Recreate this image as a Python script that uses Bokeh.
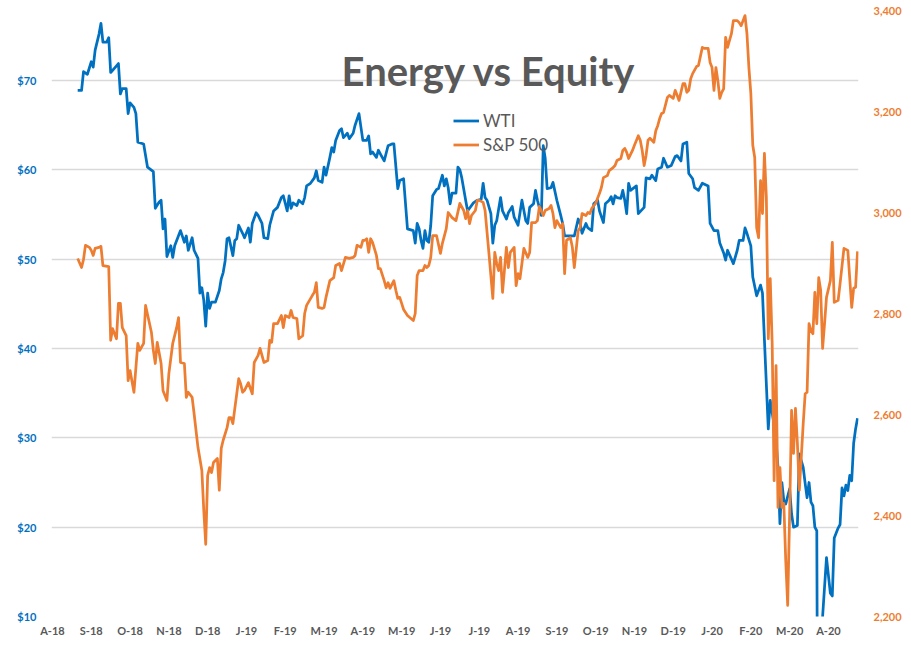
from bokeh.plotting import figure
from bokeh.models import (Range1d, LinearAxis, FixedTicker, NumeralTickFormatter,
                          Legend, LegendItem, Label, ColumnDataSource)
from bokeh.embed import file_html
from bokeh.resources import INLINE

# ---------------- data (trading-day index on a category axis) ----------------
month_ticks = [0, 20, 40, 60, 80, 100, 120, 140, 160, 180, 200,
               220, 240, 260, 280, 300, 320, 340, 360, 380, 400]
month_labels = ["A-18", "S-18", "O-18", "N-18", "D-18", "J-19", "F-19", "M-19", "A-19", "M-19", "J-19",
                "J-19", "A-19", "S-19", "O-19", "N-19", "D-19", "J-20", "F-20", "M-20", "A-20"]

wti_day = [13, 15, 16, 18, 20, 21, 22, 24, 25, 26,
           28, 29, 30, 32, 34, 35, 36, 38, 39, 40,
           42, 43, 44, 47, 49, 52, 53, 55, 56, 57,
           58, 59, 61, 62, 63, 66, 68, 69, 70, 72,
           73, 75, 76, 77, 78, 79, 80, 81, 82, 84,
           86, 87, 88, 89, 90, 91, 93, 94, 95, 96,
           98, 99, 101, 102, 103, 105, 106, 108, 109, 111,
           112, 114, 116, 118, 119, 121, 122, 123, 124, 126,
           127, 129, 130, 131, 133, 135, 136, 137, 139, 140,
           141, 143, 144, 145, 146, 148, 149, 150, 152, 153,
           155, 156, 158, 160, 162, 163, 164, 165, 167, 168,
           169, 171, 173, 175, 176, 178, 179, 181, 183, 186,
           187, 188, 189, 190, 191, 192, 193, 194, 195, 196,
           198, 199, 201, 202, 203, 204, 205, 206, 208, 209,
           210, 211, 213, 214, 215, 217, 219, 221, 222, 223,
           224, 226, 227, 228, 229, 231, 232, 234, 235, 237,
           238, 240, 241, 242, 244, 245, 246, 248, 249, 250,
           252, 253, 254, 255, 257, 258, 260, 262, 263, 264,
           266, 269, 271, 272, 273, 275, 276, 278, 279, 281,
           282, 284, 285, 287, 288, 289, 290, 291, 293, 294,
           295, 296, 297, 298, 301, 302, 305, 306, 308, 309,
           311, 312, 314, 315, 317, 319, 321, 322, 324, 325,
           327, 328, 330, 331, 333, 335, 338, 339, 341, 343,
           344, 346, 347, 348, 351, 353, 354, 356, 357, 358,
           360, 361, 363, 365, 366, 367, 369, 370, 371, 372,
           373, 374, 375, 376, 377, 378, 380, 381, 382, 384,
           385, 387, 388, 389, 390, 391, 392, 393, 394, 395,
           397, 399, 401, 402, 403, 405, 406, 407, 408, 409,
           410, 411, 412, 413, 414, 415]
wti_usd = [68.9, 68.9, 71.0, 70.7, 72.1, 71.5, 73.4, 75.2, 76.4, 74.3,
           74.3, 74.8, 70.9, 71.4, 71.9, 68.5, 69.1, 69.1, 66.3, 67.5,
           67.0, 66.3, 63.1, 62.9, 60.3, 59.8, 55.7, 56.4, 56.6, 53.4,
           54.5, 50.3, 51.5, 50.2, 51.5, 53.2, 51.9, 52.6, 51.0, 52.4,
           51.0, 50.1, 46.2, 46.8, 45.4, 42.5, 46.2, 44.5, 45.2, 45.2,
           46.5, 47.8, 48.5, 49.8, 52.3, 52.4, 50.4, 52.1, 52.3, 53.8,
           52.9, 52.4, 53.5, 51.9, 54.0, 55.2, 54.9, 54.0, 52.4, 52.3,
           53.8, 55.4, 55.8, 56.9, 57.1, 55.4, 57.1, 55.7, 56.3, 56.0,
           56.6, 56.2, 56.9, 58.2, 58.5, 59.1, 59.9, 58.8, 58.6, 60.3,
           59.4, 61.4, 62.5, 62.0, 63.3, 64.4, 64.6, 63.6, 64.1, 63.5,
           64.1, 65.0, 66.3, 63.3, 63.3, 63.8, 61.8, 62.0, 61.4, 62.2,
           61.8, 61.0, 62.7, 62.9, 62.9, 57.9, 58.8, 59.0, 53.4, 53.2,
           51.8, 54.0, 53.4, 52.1, 51.2, 53.2, 52.1, 51.9, 53.8, 57.1,
           57.8, 57.9, 59.4, 58.2, 59.0, 58.0, 56.2, 57.4, 57.4, 60.3,
           60.0, 59.1, 56.6, 55.4, 55.7, 56.3, 56.6, 56.7, 58.5, 56.9,
           56.6, 55.1, 51.8, 53.8, 54.3, 56.9, 55.4, 54.5, 55.2, 55.9,
           54.7, 53.8, 55.2, 56.6, 54.3, 54.0, 55.8, 56.2, 57.7, 56.6,
           54.9, 62.7, 61.3, 57.9, 58.0, 58.6, 56.6, 54.9, 54.0, 52.6,
           52.6, 52.6, 54.5, 54.0, 52.9, 54.0, 53.5, 53.2, 56.2, 56.6,
           55.4, 54.1, 56.2, 56.6, 57.0, 56.2, 57.1, 56.9, 56.8, 57.7,
           56.6, 55.1, 58.5, 57.7, 58.2, 55.1, 55.8, 59.1, 59.0, 59.4,
           58.8, 60.1, 60.3, 61.3, 60.3, 60.5, 61.5, 61.6, 61.0, 62.9,
           63.1, 59.6, 59.0, 58.0, 57.7, 58.5, 58.2, 54.0, 53.2, 53.2,
           51.8, 50.7, 49.9, 51.0, 49.5, 51.0, 52.1, 52.1, 53.5, 52.9,
           51.5, 48.0, 45.9, 47.1, 46.2, 41.0, 31.0, 34.2, 32.8, 31.5,
           29.7, 26.7, 20.4, 25.0, 23.0, 22.6, 24.3, 21.5, 20.0, 20.2,
           28.2, 26.7, 24.9, 23.3, 25.0, 22.8, 22.4, 20.0, 19.6, -37.6,
           10.0, 16.6, 12.6, 12.3, 18.8, 19.9, 20.3, 24.4, 23.5, 24.7,
           24.1, 25.8, 25.2, 29.4, 31.0, 32.2]

spx_day = [13, 15, 16, 17, 19, 20, 21, 22, 24, 25,
           26, 29, 30, 31, 33, 34, 35, 36, 38, 39,
           40, 42, 44, 45, 47, 48, 51, 52, 53, 54,
           56, 57, 59, 60, 62, 64, 65, 66, 68, 69,
           70, 72, 73, 75, 77, 78, 79, 80, 81, 82,
           83, 85, 86, 87, 88, 90, 91, 92, 93, 94,
           95, 96, 97, 98, 99, 101, 103, 104, 106, 107,
           109, 111, 112, 113, 114, 116, 118, 119, 120, 122,
           123, 124, 126, 127, 129, 130, 131, 134, 135, 136,
           137, 139, 140, 141, 143, 145, 146, 148, 149, 151,
           153, 155, 156, 157, 159, 160, 161, 162, 163, 164,
           165, 167, 168, 169, 171, 172, 173, 174, 176, 177,
           178, 179, 180, 181, 183, 186, 187, 188, 189, 191,
           192, 193, 194, 195, 196, 198, 200, 201, 203, 204,
           206, 208, 210, 212, 213, 214, 215, 216, 218, 219,
           220, 222, 223, 225, 227, 228, 229, 230, 231, 232,
           234, 235, 236, 238, 239, 240, 241, 242, 243, 245,
           246, 247, 249, 250, 251, 253, 254, 256, 257, 258,
           259, 260, 262, 263, 264, 265, 267, 268, 269, 271,
           272, 273, 275, 276, 277, 278, 280, 281, 282, 283,
           284, 286, 287, 289, 290, 291, 293, 294, 295, 296,
           297, 299, 300, 302, 303, 304, 305, 306, 307, 308,
           310, 311, 312, 313, 314, 315, 317, 318, 320, 321,
           322, 323, 325, 326, 327, 328, 329, 330, 332, 333,
           335, 336, 338, 339, 340, 341, 342, 343, 344, 345,
           346, 347, 348, 350, 351, 353, 354, 355, 357, 358,
           359, 360, 361, 362, 363, 364, 365, 366, 367, 368,
           369, 370, 371, 372, 373, 374, 375, 376, 377, 378,
           379, 380, 381, 382, 383, 384, 385, 386, 387, 388,
           389, 390, 391, 392, 393, 394, 395, 396, 397, 398,
           399, 401, 402, 403, 405, 406, 408, 410, 412, 413,
           414, 415]
spx_pts = [2909, 2891, 2907, 2935, 2931, 2925, 2915, 2929, 2931, 2933,
           2895, 2893, 2747, 2770, 2750, 2820, 2820, 2772, 2756, 2667,
           2687, 2644, 2741, 2727, 2741, 2816, 2763, 2727, 2701, 2743,
           2701, 2647, 2628, 2681, 2741, 2772, 2792, 2703, 2701, 2634,
           2644, 2634, 2602, 2535, 2489, 2410, 2343, 2479, 2495, 2485,
           2505, 2513, 2450, 2533, 2549, 2574, 2594, 2594, 2582, 2612,
           2641, 2671, 2661, 2644, 2648, 2663, 2641, 2703, 2717, 2731,
           2703, 2707, 2747, 2743, 2780, 2780, 2796, 2772, 2796, 2792,
           2806, 2792, 2790, 2750, 2756, 2800, 2816, 2836, 2842, 2861,
           2812, 2810, 2812, 2832, 2865, 2871, 2895, 2899, 2885, 2911,
           2909, 2911, 2915, 2935, 2931, 2945, 2945, 2948, 2921, 2948,
           2941, 2915, 2889, 2889, 2865, 2851, 2861, 2850, 2865, 2846,
           2830, 2832, 2820, 2808, 2796, 2786, 2800, 2875, 2885, 2885,
           2895, 2891, 2895, 2911, 2954, 2954, 2919, 2939, 2968, 3000,
           2990, 2984, 3018, 3004, 2988, 3004, 2978, 2994, 3004, 3024,
           3024, 3020, 3004, 2919, 2830, 2921, 2899, 2885, 2911, 2842,
           2931, 2891, 2921, 2931, 2855, 2879, 2869, 2899, 2929, 2911,
           2921, 2980, 2980, 2984, 3012, 2994, 3004, 3008, 3014, 2998,
           2970, 2984, 2970, 2978, 2879, 2945, 2950, 2931, 2891, 2964,
           2970, 2998, 2994, 3000, 2998, 3008, 3018, 3028, 3038, 3050,
           3069, 3073, 3083, 3089, 3093, 3103, 3107, 3123, 3127, 3119,
           3107, 3123, 3133, 3152, 3143, 3123, 3093, 3113, 3143, 3147,
           3139, 3162, 3172, 3186, 3196, 3198, 3228, 3232, 3226, 3242,
           3232, 3222, 3255, 3255, 3238, 3242, 3265, 3275, 3289, 3291,
           3327, 3325, 3325, 3297, 3287, 3242, 3287, 3261, 3226, 3238,
           3245, 3347, 3327, 3354, 3380, 3380, 3376, 3370, 3390, 3354,
           3287, 3236, 3133, 3109, 2970, 2950, 3063, 2998, 3117, 3030,
           2750, 2869, 2741, 2469, 2697, 2416, 2495, 2416, 2424, 2310,
           2222, 2404, 2608, 2523, 2612, 2543, 2450, 2515, 2582, 2641,
           2644, 2780, 2766, 2760, 2842, 2780, 2871, 2846, 2731, 2780,
           2832, 2865, 2941, 2822, 2826, 2859, 2929, 2925, 2812, 2850,
           2852, 2923]

usd_ticks = [10, 20, 30, 40, 50, 60, 70]
spx_ticks = [2200, 2400, 2600, 2800, 3000, 3200, 3400]

# ---------------- styling ----------------
BLUE = "#0070C0"
ORANGE = "#ED7D31"
GREY = "#595959"
GRID = "#D9D9D9"
FONT = "Lato"

p = figure(width=911, height=661, output_backend="svg", toolbar_location=None,
           x_range=Range1d(-0.5, 415.5), y_range=Range1d(10, 77.84),
           min_border_left=51, min_border_right=53, min_border_top=10, min_border_bottom=45)
p.outline_line_color = None
p.background_fill_color = "white"
p.border_fill_color = "white"
p.extra_y_ranges = {"spx": Range1d(2200, 3400)}

# grid
p.xgrid.visible = False
p.ygrid.ticker = FixedTicker(ticks=usd_ticks)
p.ygrid.grid_line_color = GRID
p.ygrid.grid_line_width = 1.3

# x axis
xa = p.xaxis[0]
xa.ticker = FixedTicker(ticks=month_ticks)
xa.major_label_overrides = {t: l for t, l in zip(month_ticks, month_labels)}
xa.axis_line_color = None
xa.major_tick_line_color = None
xa.minor_tick_line_color = None
xa.major_tick_out = 0
xa.major_tick_in = 0
xa.major_label_standoff = 7
xa.major_label_text_font = FONT
xa.major_label_text_font_style = "bold"
xa.major_label_text_font_size = "11px"
xa.major_label_text_color = GREY

# left axis
ya = p.yaxis[0]
ya.ticker = FixedTicker(ticks=usd_ticks)
ya.formatter = NumeralTickFormatter(format="$0")
ya.axis_line_color = None
ya.major_tick_line_color = None
ya.minor_tick_line_color = None
ya.major_tick_out = 0
ya.major_tick_in = 0
ya.major_label_standoff = 15
ya.major_label_text_font = FONT
ya.major_label_text_font_style = "bold"
ya.major_label_text_font_size = "11px"
ya.major_label_text_color = BLUE

# right axis
ra = LinearAxis(y_range_name="spx", ticker=FixedTicker(ticks=spx_ticks),
                formatter=NumeralTickFormatter(format="0,0"))
ra.axis_line_color = None
ra.major_tick_line_color = None
ra.minor_tick_line_color = None
ra.major_tick_out = 0
ra.major_tick_in = 0
ra.major_label_standoff = 15
ra.major_label_text_font = FONT
ra.major_label_text_font_style = "bold"
ra.major_label_text_font_size = "11px"
ra.major_label_text_color = ORANGE
p.add_layout(ra, "right")

# series
wti_src = ColumnDataSource(dict(x=wti_day, y=wti_usd))
spx_src = ColumnDataSource(dict(x=spx_day, y=spx_pts))
r_wti = p.line("x", "y", source=wti_src, line_color=BLUE, line_width=2.75, line_join="round")
r_spx = p.line("x", "y", source=spx_src, line_color=ORANGE, line_width=2.75, line_join="round",
               y_range_name="spx")

# legend
legend = Legend(items=[LegendItem(label="WTI", renderers=[r_wti]),
                       LegendItem(label="S&P 500", renderers=[r_spx])],
                location=(402, 461), orientation="vertical",
                padding=0, margin=0, spacing=3, glyph_width=26, glyph_height=19,
                label_height=19, label_standoff=4,
                label_text_font=FONT, label_text_font_size="17px", label_text_color=GREY,
                border_line_color=None, background_fill_alpha=0)
p.add_layout(legend, "center")

# title
title = Label(x=225, y=71.1, text="Energy vs Equity", text_align="center",
              text_baseline="alphabetic", text_font=FONT, text_font_style="bold",
              text_font_size="40px", text_color=GREY)
p.add_layout(title)

open("out.html", "w").write(file_html(p, INLINE))
